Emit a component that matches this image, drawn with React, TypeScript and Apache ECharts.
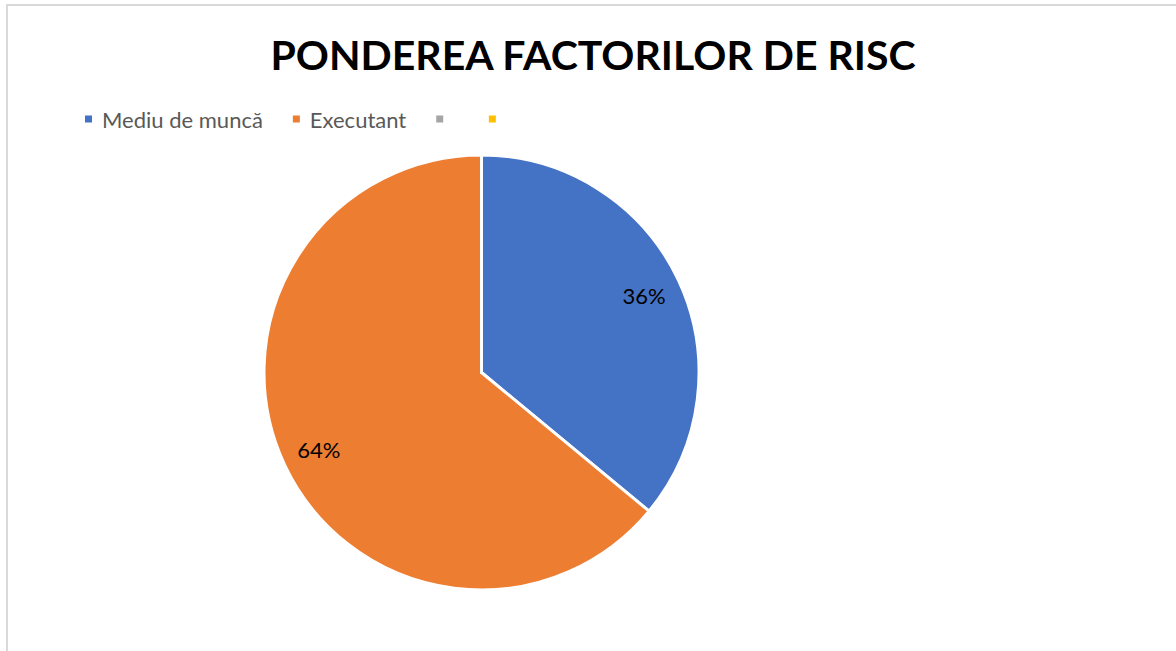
import React, { useEffect, useRef } from "react";
import * as echarts from "echarts";

const titleText = "PONDEREA FACTORILOR DE RISC";
const categories = ["Mediu de muncă", "Executant", "s3", "s4"];
const values = [36, 64, 0, 0];
const colors = ["#4472c4", "#ed7d31", "#a5a5a5", "#ffc000"];
const hiddenLegendText = ["s3", "s4"];

export default function App() {
  const ref = useRef<HTMLDivElement>(null);
  useEffect(() => {
    document.body.style.margin = "0";
    const chart = echarts.init(ref.current!, null, { renderer: "svg" });
    const data = categories.map((name, i) => ({
      name,
      value: values[i],
      itemStyle: { color: colors[i] },
    }));
    const FONT = "Lato, 'Open Sans', sans-serif";
    chart.setOption({
      animation: false,
      backgroundColor: "#ffffff",
      graphic: [
        {
          type: "rect",
          shape: { x: 7, y: 5, width: 1200, height: 700 },
          style: { fill: "none", stroke: "#d9d9d9", lineWidth: 2 },
          silent: true,
        },
      ],
      title: {
        text: titleText,
        left: 588,
        textAlign: "center",
        top: 29,
        textStyle: {
          fontFamily: FONT,
          fontWeight: "bold",
          fontSize: 41,
          color: "#000000",
        },
      },
      legend: {
        left: 83,
        top: 108,
        padding: 0,
        icon: "rect",
        itemWidth: 9,
        itemHeight: 9,
        itemGap: 28,
        data: categories,
        formatter: (name: string) =>
          name === hiddenLegendText[0] ? " " : hiddenLegendText.includes(name) ? "" : name,
        textStyle: {
          fontFamily: FONT,
          fontSize: 22,
          color: "#595959",
          padding: [0, 0, 0, 4],
        },
      },
      series: [
        {
          type: "pie",
          center: [481.5, 372.5],
          radius: [0, 217.5],
          startAngle: 90,
          clockwise: true,
          label: { show: false },
          labelLine: { show: false },
          emphasis: { disabled: true },
          itemStyle: { borderColor: "#ffffff", borderWidth: 3 },
          data,
        },
        {
          type: "pie",
          center: [481.5, 372.5],
          radius: [136, 217.5],
          startAngle: 90,
          clockwise: true,
          silent: true,
          emphasis: { disabled: true },
          itemStyle: { color: "transparent", borderWidth: 0 },
          labelLine: { show: false },
          label: {
            show: true,
            position: "inside",
            formatter: (p: any) => (p.value > 0 ? `${Math.round(p.percent)}%` : ""),
            fontFamily: FONT,
            fontSize: 22,
            color: "#000000",
          },
          data: categories.map((name, i) => ({
            name,
            value: values[i],
            itemStyle: { color: "transparent" },
          })),
        },
      ],
    });
    return () => chart.dispose();
  }, []);
  return <div ref={ref} style={{ width: 1176, height: 651 }} />;
}
